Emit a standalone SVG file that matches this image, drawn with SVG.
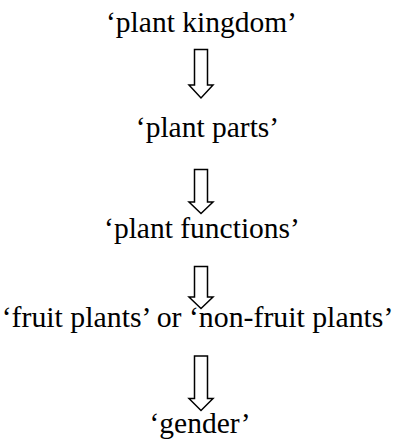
<svg xmlns="http://www.w3.org/2000/svg" width="395" height="446" viewBox="0 0 395 446">
<style>
.t{font-family:"Liberation Serif","Times New Roman",serif;font-size:29.5px;fill:#000;text-anchor:middle}
.a{fill:#fff;stroke:#000;stroke-width:1.5;stroke-linejoin:miter}
</style>
<rect width="395" height="446" fill="#fff"/>
<g id="n1"><text class="t" x="201.5" y="32">‘plant kingdom’</text></g>
<g id="n2"><text class="t" x="207.5" y="137">‘plant parts’</text></g>
<g id="n3"><text class="t" x="202" y="238">‘plant functions’</text></g>
<g id="n4"><text class="t" x="197.5" y="327" style="font-size:29.8px">‘fruit plants’ or ‘non-fruit plants’</text></g>
<g id="n5"><text class="t" x="200" y="433">‘gender’</text></g>
<g id="connectors">
<polygon class="a" points="194.5,49.5 207.5,49.5 207.5,85 213,85 201,98 189,85 194.5,85"/>
<polygon class="a" points="194.5,169.5 207.5,169.5 207.5,202 213,202 201,213.5 189,202 194.5,202"/>
<polygon class="a" points="194.5,266.5 207.5,266.5 207.5,297 213,297 201,308.5 189,297 194.5,297"/>
<polygon class="a" points="194.5,356 207.5,356 207.5,398.5 213,398.5 201,410.5 189,398.5 194.5,398.5"/>
</g>
</svg>
